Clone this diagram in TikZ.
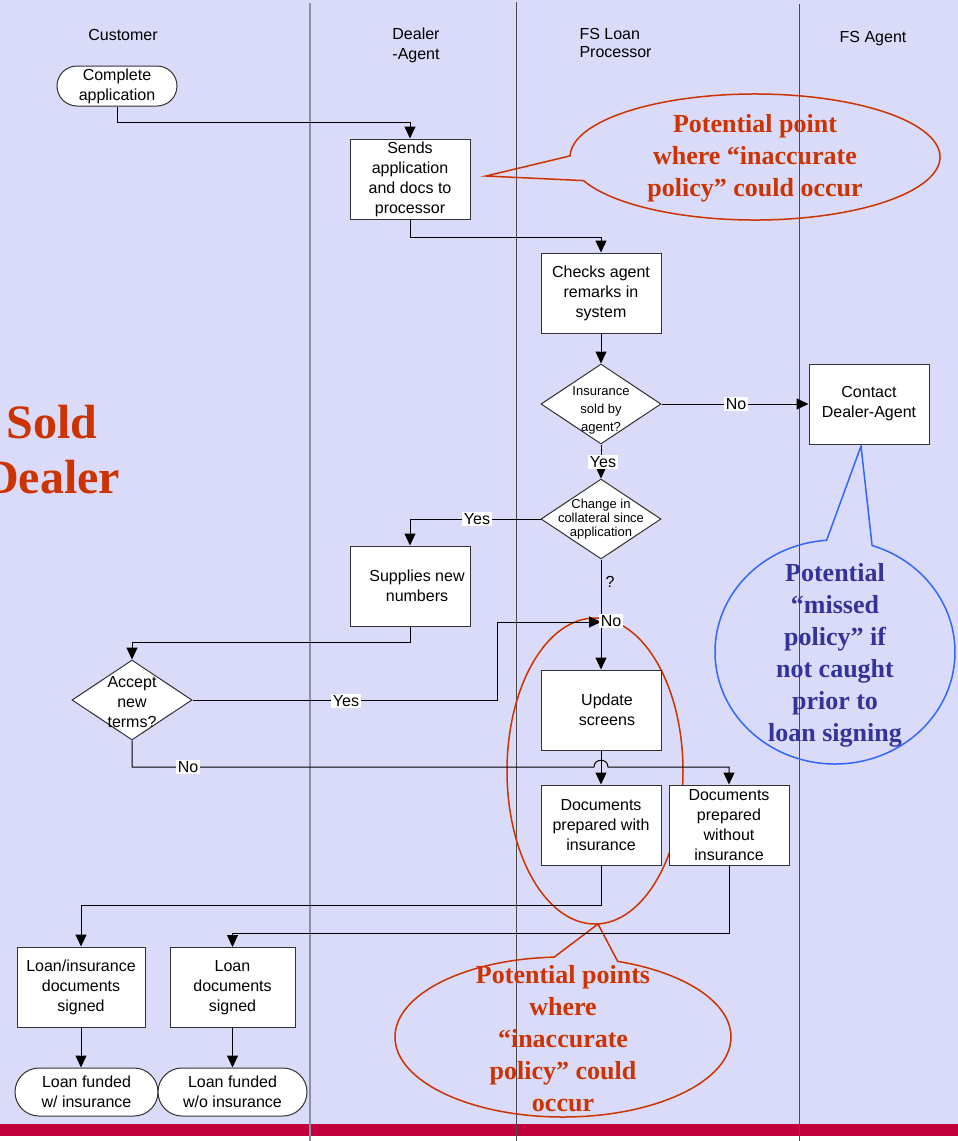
\documentclass[tikz,border=0pt]{standalone}
\usepackage{fontspec}
\setmainfont{Liberation Sans}
\newfontfamily\calloutfont{Liberation Serif}
\usetikzlibrary{arrows.meta,shapes.geometric}
\definecolor{lanebg}{RGB}{217,219,248}
\definecolor{barred}{RGB}{194,0,62}
\definecolor{lanegray}{RGB}{140,142,170}
\definecolor{calloutred}{RGB}{204,51,0}
\definecolor{calloutblue}{RGB}{51,102,255}
\definecolor{notenavy}{RGB}{51,51,153}

\begin{document}
\begin{tikzpicture}[x=1pt,y=-1pt,
  every node/.style={font=\fontsize{16}{20}\selectfont},
  stepbox/.style={draw=black!80, line width=1pt, fill=white, minimum width=120pt,
    minimum height=80pt, inner sep=1pt, align=center},
  pill/.style={draw=black!80, line width=1pt, fill=white, rounded corners=20pt,
    minimum width=120pt, minimum height=40pt, inner sep=1pt, align=center},
  decision/.style={draw=black!80, line width=1pt, fill=white, diamond,
    minimum width=120pt, minimum height=80pt, inner sep=0pt},
  dtext/.style={align=center, inner sep=0pt},
  flow/.style={draw=black, line width=1pt, -{Triangle[width=11pt,length=12pt]}},
  lbl/.style={fill=white, inner sep=1.5pt},
  lanerule/.style={draw=black!70, line width=0.8pt},
  callout/.style={line width=1.5pt},
  note/.style={font=\calloutfont\bfseries\fontsize{26}{32}\selectfont, align=center},
  bignote/.style={font=\calloutfont\bfseries\fontsize{48}{55}\selectfont, text=calloutred, anchor=base},
]
\useasboundingbox (0,0) rectangle (958,1141);
\clip (0,0) rectangle (958,1141);

% page background and bottom bar
\fill[lanebg] (0,0) rectangle (958,1124);
\fill[white] (0,1124) rectangle (958,1141);
\fill[barred] (0,1124) rectangle (958,1136);

% swimlane separators
\draw[draw=lanegray, line width=1.6pt] (310,3) -- (310,1141);
\draw[lanerule] (516,2) -- (516,1141);
\draw[lanerule] (799,4) -- (799,1141);

% lane headers
\node (hcust) at (123,35) {Customer};
\node[align=center] (hdeal) at (416,45) {Dealer\\-Agent};
\node[align=left, anchor=west, font=\fontsize{16}{18}\selectfont] (hproc) at (576,43) {FS Loan\\Processor};
\node (hagent) at (873,39) {FS Agent};

% callout outlines (behind the process boxes)
\draw[callout, calloutred] (486,176) -- ([shift={(755,157)}]202:185pt and 63pt)
  arc[start angle=202, end angle=539, x radius=185pt, y radius=63pt] -- cycle;
\draw[callout, calloutblue] (861,446) -- ([shift={(835,652)}]94:120pt and 112pt)
  arc[start angle=94, end angle=432, x radius=120pt, y radius=112pt] -- cycle;
\draw[callout, calloutred] (595,771) ellipse [x radius=88pt, y radius=153pt];
\draw[callout, calloutred] (598,924) -- ([shift={(563,1037)}]93:168pt and 80pt)
  arc[start angle=93, end angle=431, x radius=168pt, y radius=80pt] -- cycle;

% process steps
\node[pill] (start) at (117,86) {Complete\\application};
\node[stepbox] (send) at (410,179) {Sends\\application\\and docs to\\processor};
\node[stepbox] (check) at (601,293) {Checks agent\\remarks in\\system};
\node[decision] (ins) at (601,404) {};
\node[dtext, font=\fontsize{13}{18}\selectfont] (instext) at (601,410) {Insurance\\sold by\\agent?};
\node[stepbox] (contact) at (869,404) {Contact\\Dealer-Agent};
\node[decision] (chg) at (601,519) {};
\node[dtext, font=\fontsize{13}{14}\selectfont] (chgtext) at (601,519) {Change in\\collateral since\\application};
\node[stepbox] (supply) at (410,586) {\hspace*{14pt}Supplies new\\\hspace*{14pt}numbers};
\node[decision] (accept) at (132,700) {};
\node[dtext] (accepttext) at (132,702) {Accept\\new\\terms?};
\node[stepbox] (upd) at (601,710) {\hspace*{12pt}Update\\\hspace*{12pt}screens};
\node[stepbox] (docins) at (601,825) {Documents\\prepared with\\insurance};
\node[stepbox] (docno) at (729,825) {Documents\\prepared\\without\\insurance};
\node[stepbox, minimum width=128pt] (signins) at (81,987) {Loan/insurance\\documents\\signed};
\node[stepbox, minimum width=125pt] (signno) at (232.5,987.5) {Loan\\documents\\signed};
\node[pill, minimum width=143pt, minimum height=48pt, rounded corners=24pt] (fundins) at (86.5,1092) {Loan funded\\w/ insurance};
\node[pill, minimum width=149pt, minimum height=48pt, rounded corners=24pt] (fundno) at (232.5,1092) {Loan funded\\w/o insurance};
\coordinate (merge) at (601,622);

% connectors
\draw[flow] (start.south) -- ++(0,16) -| (send.north);
\draw[flow] (send.south) -- ++(0,18) -| (check.north);
\draw[flow] (check.south) -- (ins.north);
\draw[flow] (ins.east) -- (contact.west);
\draw[flow] (ins.south) -- (chg.north);
\draw[flow] (chg.west) -| (supply.north);
\draw[flow] (chg.south) -- (upd.north);
\draw[flow] (supply.south) -- ++(0,16) -| (accept.north);
\draw[flow] (accept.east) -| (497,622) -- (merge);
\draw[flow] (accept.south) |- (594,767) .. controls (594,758) and (608,758) .. (608,767) -| (docno.north);
\draw[flow] (upd.south) -- (docins.north);
\draw[flow] (docins.south) -- ++(0,40) -| (signins.north);
\draw[flow] (docno.south) -- ++(0,68) -| (signno.north);
\draw[flow] (signins.south) -- (signins.south |- fundins.north);
\draw[flow] (signno.south) -- (fundno.north);

% branch labels
\node[lbl] (lno1) at (736,404) {No};
\node[lbl] (lyes1) at (603,462) {Yes};
\node[lbl] (lyes2) at (477,519) {Yes};
\node (lq) at (610,582) {?};
\node[lbl] (lno2) at (611,621) {No};
\node[lbl] (lyes3) at (346,701) {Yes};
\node[lbl] (lno3) at (188,767) {No};

% callout texts
\node[note, text=calloutred] (n1) at (755,158) {Potential point\\where “inaccurate\\policy” could occur};
\node[note, text=notenavy] (n2) at (835,655) {Potential\\“missed\\policy” if\\not caught\\prior to\\loan signing};
\node[note, text=calloutred] (n3) at (563,1039) {Potential points\\where\\“inaccurate\\policy” could\\occur};

% side title
\node[bignote] (sold) at (52,438) {Sold};
\node[bignote] (dealer) at (52,493) {Dealer};
\end{tikzpicture}
\end{document}
